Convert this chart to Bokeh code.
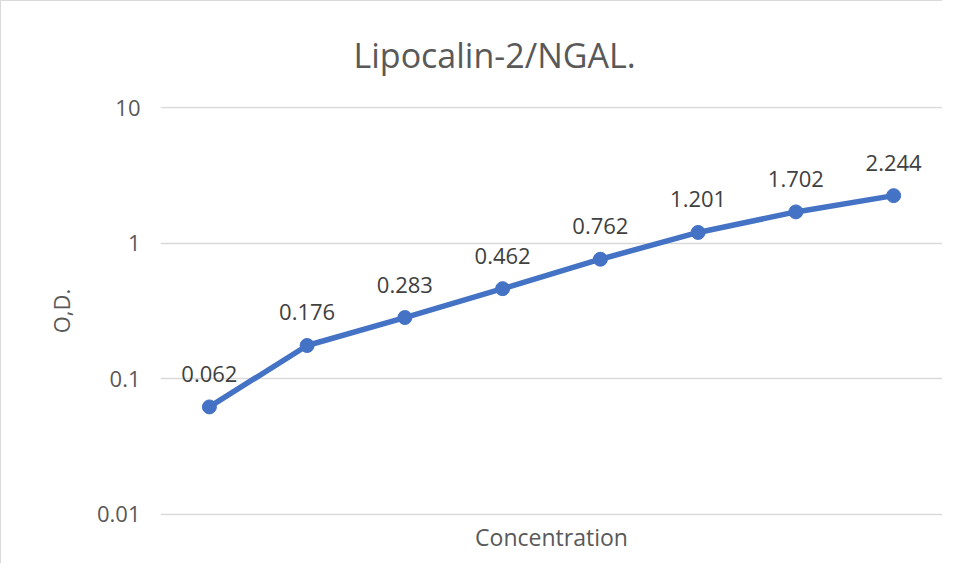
from bokeh.plotting import figure
from bokeh.models import (FixedTicker, CustomJSTickFormatter, ColumnDataSource,
                          Title, Range1d)
from bokeh.core.properties import value
from bokeh.embed import file_html
from bokeh.resources import INLINE

# ---- data ----
concentrations = ["C1", "C2", "C3", "C4", "C5", "C6", "C7", "C8"]
od_values = [0.062, 0.176, 0.283, 0.462, 0.762, 1.201, 1.702, 2.244]
od_labels = ["0.062", "0.176", "0.283", "0.462", "0.762", "1.201", "1.702", "2.244"]
y_ticks = [0.01, 0.1, 1, 10]
y_tick_labels = ["0.01", "0.1", "1", "10"]
title_text = "Lipocalin-2/NGAL."
x_label = "Concentration"
y_label = "O,D."

FONT = "Open Sans"
GREY = "#595959"
BLUE = "#4472C4"

x_pos = list(range(1, len(concentrations) + 1))
src = ColumnDataSource(dict(x=x_pos, c=concentrations, od=od_values, lbl=od_labels))

p = figure(width=942, height=563, output_backend="svg", toolbar_location=None,
           x_range=Range1d(0.5, len(concentrations) + 0.5),
           y_range=Range1d(y_ticks[0] / 1.02, y_ticks[-1] * 1.02), y_axis_type="log",
           min_border_left=159, min_border_right=1, min_border_top=104,
           min_border_bottom=49)
p.styles = {"border-left": "1px solid #d9d9d9", "border-top": "1px solid #d9d9d9"}
p.outline_line_color = None
p.background_fill_color = "white"
p.border_fill_color = "white"

# title
t = Title(text=title_text, align="left", offset=193,
          text_font=FONT, text_font_size="34px", text_font_style="normal",
          text_color=GREY)
if "standoff" in t.properties():
    t.standoff = 57
p.add_layout(t, "above")

# y axis
ya = p.yaxis[0]
ya.ticker = FixedTicker(ticks=y_ticks, minor_ticks=[])
ya.formatter = CustomJSTickFormatter(args=dict(vals=y_ticks, labs=y_tick_labels), code="""
    const i = vals.findIndex(v => Math.abs(Math.log10(v) - Math.log10(tick)) < 1e-6);
    return i >= 0 ? labs[i] : '';
""")
ya.axis_line_color = None
ya.major_tick_line_color = None
ya.minor_tick_line_color = None
ya.major_tick_in = 0
ya.major_tick_out = 0
ya.major_label_standoff = 20
ya.major_label_text_font = FONT
ya.major_label_text_font_size = "22px"
ya.major_label_text_color = GREY
ya.axis_label = y_label
ya.axis_label_text_font = FONT
ya.axis_label_text_font_size = "22px"
ya.axis_label_text_font_style = "normal"
ya.axis_label_text_color = GREY
ya.axis_label_standoff = 18

# x axis (no tick labels, only the title)
xa = p.xaxis[0]
xa.ticker = FixedTicker(ticks=[])
xa.axis_line_color = None
xa.major_tick_line_color = None
xa.minor_tick_line_color = None
xa.major_tick_in = 0
xa.major_tick_out = 0
xa.major_label_standoff = 0
xa.axis_label = x_label
xa.axis_label_text_font = FONT
xa.axis_label_text_font_size = "23px"
xa.axis_label_text_font_style = "normal"
xa.axis_label_text_color = GREY
xa.axis_label_standoff = 5

p.xgrid.grid_line_color = None
p.ygrid.grid_line_color = "#d9d9d9"
p.ygrid.grid_line_width = 1.5
p.ygrid.ticker = FixedTicker(ticks=y_ticks, minor_ticks=[])

p.line(x="x", y="od", source=src, line_width=5.5, line_color=BLUE,
       line_cap="round", line_join="round")
p.scatter(x="x", y="od", source=src, size=14, fill_color=BLUE, line_color=BLUE)
p.text(x="x", y="od", text="lbl", source=src, text_align="center",
       text_baseline="alphabetic", y_offset=-33, text_font=value(FONT),
       text_font_size="22px", text_color="#404040")

open("out.html", "w").write(file_html(p, INLINE))
